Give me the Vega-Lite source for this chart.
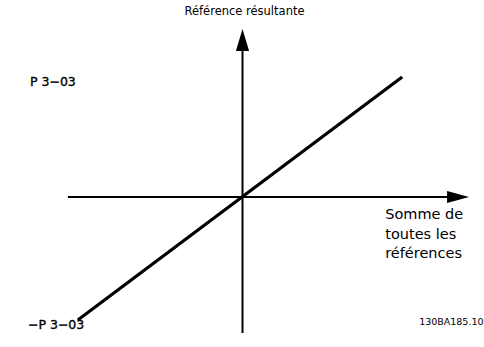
{
  "$schema": "https://vega.github.io/schema/vega-lite/v6.json",
  "width": 484,
  "height": 347,
  "padding": 0,
  "autosize": {"type": "fit", "contains": "padding"},
  "background": "white",
  "config": {"view": {"stroke": null}},
  "datasets": {
    "axes": [
      {"seg": "horizontal", "x": -175, "y": 0},
      {"seg": "horizontal", "x": 215, "y": 0},
      {"seg": "vertical", "x": 0, "y": -136},
      {"seg": "vertical", "x": 0, "y": 150}
    ],
    "diag": [
      {"x": -165, "y": -123},
      {"x": 160, "y": 120}
    ],
    "arrows": [
      {"dir": "up", "x": 0, "y": 157},
      {"dir": "right", "x": 216, "y": 0}
    ],
    "labels": [
      {"kind": "title", "x": 2, "y": 185, "text": "Référence résultante"},
      {"kind": "side", "x": -213, "y": 115, "text": "P 3−03"},
      {"kind": "side", "x": -215, "y": -128, "text": "−P 3−03"},
      {"kind": "xlabel", "x": 143, "y": -18, "text": "Somme de\ntoutes les\nréférences"},
      {"kind": "code", "x": 177, "y": -125, "text": "130BA185.10"}
    ]
  },
  "encoding": {
    "x": {"field": "x", "type": "quantitative", "scale": {"domain": [-243, 241], "nice": false, "zero": false}, "axis": null},
    "y": {"field": "y", "type": "quantitative", "scale": {"domain": [-150, 197], "nice": false, "zero": false}, "axis": null}
  },
  "layer": [
    {
      "data": {"name": "axes"},
      "mark": {"type": "line", "color": "black", "strokeWidth": 2},
      "encoding": {"detail": {"field": "seg"}}
    },
    {
      "data": {"name": "diag"},
      "mark": {"type": "line", "color": "black", "strokeWidth": 3.2}
    },
    {
      "data": {"name": "arrows"},
      "transform": [{"filter": "datum.dir === 'up'"}],
      "mark": {"type": "point", "filled": true, "color": "black", "opacity": 1, "shape": "M-0.6,1L0,-1L0.6,1Z", "size": 484}
    },
    {
      "data": {"name": "arrows"},
      "transform": [{"filter": "datum.dir === 'right'"}],
      "mark": {"type": "point", "filled": true, "color": "black", "opacity": 1, "shape": "M-1,-0.55L1,0L-1,0.55Z", "size": 484}
    },
    {
      "data": {"name": "labels"},
      "transform": [{"filter": "datum.kind === 'title'"}],
      "mark": {"type": "text", "font": "DejaVu Sans", "fontSize": 11.5, "align": "center", "baseline": "middle", "color": "black"},
      "encoding": {"text": {"field": "text"}}
    },
    {
      "data": {"name": "labels"},
      "transform": [{"filter": "datum.kind === 'side'"}],
      "mark": {"type": "text", "font": "DejaVu Sans", "fontSize": 12.5, "align": "left", "baseline": "middle", "color": "black", "stroke": "black", "strokeWidth": 0.35},
      "encoding": {"text": {"field": "text"}}
    },
    {
      "data": {"name": "labels"},
      "transform": [{"filter": "datum.kind === 'xlabel'"}],
      "mark": {"type": "text", "font": "DejaVu Sans", "fontSize": 14.5, "align": "left", "baseline": "middle", "lineBreak": "\n", "lineHeight": 19.5, "color": "black"},
      "encoding": {"text": {"field": "text"}}
    },
    {
      "data": {"name": "labels"},
      "transform": [{"filter": "datum.kind === 'code'"}],
      "mark": {"type": "text", "font": "DejaVu Sans", "fontSize": 9.5, "align": "left", "baseline": "middle", "color": "black"},
      "encoding": {"text": {"field": "text"}}
    }
  ]
}
